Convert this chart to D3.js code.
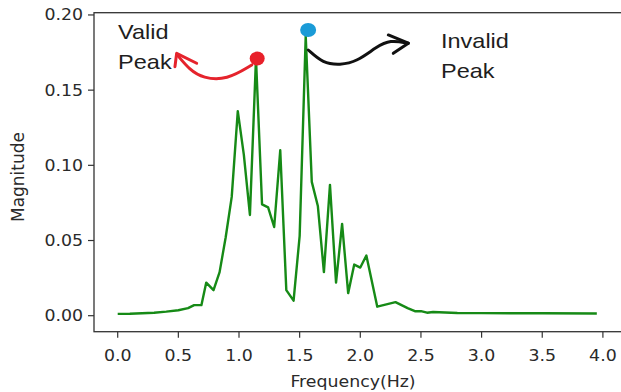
<!DOCTYPE html>
<html>
<head>
<meta charset="utf-8">
<script src="https://cdn.jsdelivr.net/npm/d3@7"></script>
<style>
	body { margin: 0; background: #fff; }
	svg { display: block; }
	text { font-family: "DejaVu Sans", sans-serif; fill: #2a2a2a; }
	.note { font-family: "Liberation Sans", Arial, sans-serif; fill: #1e1e1e; }
</style>
</head>
<body>
<svg id="chart" width="621" height="392"></svg>
<script>
// spectrum
var freqs = [0.00, 0.10, 0.20, 0.30, 0.40, 0.50, 0.58, 0.63, 0.69, 0.73, 0.79, 0.84, 0.89, 0.94, 0.99,
	1.04, 1.09, 1.14, 1.19, 1.24, 1.29, 1.34, 1.39, 1.45, 1.50, 1.55, 1.60, 1.65, 1.70, 1.75, 1.80,
	1.85, 1.90, 1.95, 2.00, 2.05, 2.14, 2.29, 2.39, 2.45, 2.50, 2.55, 2.60, 2.80, 3.00, 3.50, 3.95];
var magnitudes = [0.0012, 0.0013, 0.0016, 0.0020, 0.0027, 0.0036, 0.005, 0.007, 0.007, 0.022, 0.017, 0.029, 0.052, 0.079, 0.136,
	0.107, 0.067, 0.171, 0.074, 0.072, 0.059, 0.110, 0.017, 0.010, 0.053, 0.186, 0.089, 0.073, 0.029, 0.087, 0.022,
	0.061, 0.015, 0.034, 0.032, 0.040, 0.006, 0.009, 0.005, 0.003, 0.003, 0.002, 0.0025, 0.0018, 0.0017, 0.0016, 0.0015];

var xTicks = [0, 0.5, 1.0, 1.5, 2.0, 2.5, 3.0, 3.5, 4.0];
var yTicks = [0, 0.05, 0.10, 0.15, 0.20];

var validPeak = [1.15, 0.171];
var invalidPeak = [1.57, 0.190];

// hand drawn arrows, in data units
var validArrow = [[1.105, 0.1667], [0.899, 0.1567], [0.703, 0.158], [0.596, 0.1633], [0.49, 0.1735]];
var validArrowHead = [[0.651, 0.1679], [0.486, 0.1745], [0.472, 0.1656]];
var invalidArrow = [[1.571, 0.1767], [1.692, 0.1679], [1.833, 0.1667], [1.970, 0.1689], [2.135, 0.1789], [2.245, 0.1834], [2.396, 0.1812]];
var invalidArrowHead = [[2.231, 0.1867], [2.396, 0.1812], [2.272, 0.1745]];

var noteLines = [["Valid", "Peak"], ["Invalid", "Peak"]];
var noteAnchors = [[0.003, 0.1840], [2.665, 0.1780]];

var svg = d3.select("#chart");
var frame = { left: 94, top: 12.7, right: 622, bottom: 331.7 };
var stretch = "scale(1.12,1)";

var x = d3.scaleLinear()
	.domain([-0.1954, 4.1575])
	.range([frame.left, frame.right]);

var y = d3.scaleLinear()
	.domain([-0.01064, 0.2015])
	.range([frame.bottom, frame.top]);

svg.append("rect")
	.attr("width", 621)
	.attr("height", 392)
	.attr("fill", "#fff");

// ticks
svg.append("g").selectAll("line")
	.data(xTicks)
	.enter().append("line")
	.attr("x1", function(d) { return x(d); })
	.attr("x2", function(d) { return x(d); })
	.attr("y1", frame.bottom)
	.attr("y2", frame.bottom + 6)
	.attr("stroke", "#333")
	.attr("stroke-width", 1.2);

svg.append("g").selectAll("text")
	.data(xTicks)
	.enter().append("text")
	.attr("transform", function(d) { return "translate(" + x(d) + "," + (frame.bottom + 29.5) + ") " + stretch; })
	.attr("text-anchor", "middle")
	.style("font-size", "15.5px")
	.text(function(d) { return d.toFixed(1); });

svg.append("g").selectAll("line")
	.data(yTicks)
	.enter().append("line")
	.attr("x1", frame.left - 6)
	.attr("x2", frame.left)
	.attr("y1", function(d) { return y(d); })
	.attr("y2", function(d) { return y(d); })
	.attr("stroke", "#333")
	.attr("stroke-width", 1.2);

svg.append("g").selectAll("text")
	.data(yTicks)
	.enter().append("text")
	.attr("transform", function(d) { return "translate(" + (frame.left - 11) + "," + (y(d) + 5.5) + ") " + stretch; })
	.attr("text-anchor", "end")
	.style("font-size", "15.5px")
	.text(function(d) { return d.toFixed(2); });

svg.append("text")
	.attr("transform", "translate(" + ((frame.left + 612) / 2) + ",387) " + stretch)
	.attr("text-anchor", "middle")
	.style("font-size", "15.5px")
	.text("Frequency(Hz)");

svg.append("text")
	.attr("transform", "translate(24,177) rotate(-90)")
	.attr("text-anchor", "middle")
	.style("font-size", "17px")
	.text("Magnitude");

// spectrum
var line = d3.line()
	.x(function(d, i) { return x(freqs[i]); })
	.y(function(d) { return y(d); });

svg.append("path")
	.datum(magnitudes)
	.attr("d", line)
	.attr("fill", "none")
	.attr("stroke", "#168a16")
	.attr("stroke-width", 2.4)
	.attr("stroke-linejoin", "round");

svg.append("rect")
	.attr("x", frame.left)
	.attr("y", frame.top)
	.attr("width", frame.right - frame.left)
	.attr("height", frame.bottom - frame.top)
	.attr("fill", "none")
	.attr("stroke", "#333")
	.attr("stroke-width", 1.3);

// annotations
var curve = d3.line()
	.x(function(d) { return x(d[0]); })
	.y(function(d) { return y(d[1]); })
	.curve(d3.curveBasis);

var straight = d3.line()
	.x(function(d) { return x(d[0]); })
	.y(function(d) { return y(d[1]); });

[[validArrow, validArrowHead, "#e5232c"], [invalidArrow, invalidArrowHead, "#111"]].forEach(function(a) {
	svg.append("path")
		.attr("d", curve(a[0]))
		.attr("fill", "none")
		.attr("stroke", a[2])
		.attr("stroke-width", 3)
		.attr("stroke-linecap", "round");
	svg.append("path")
		.attr("d", straight(a[1]))
		.attr("fill", "none")
		.attr("stroke", a[2])
		.attr("stroke-width", 3)
		.attr("stroke-linecap", "round")
		.attr("stroke-linejoin", "round");
});

svg.append("ellipse")
	.attr("cx", x(validPeak[0]))
	.attr("cy", y(validPeak[1]))
	.attr("rx", 7.5)
	.attr("ry", 7)
	.attr("fill", "#e8202a");

svg.append("ellipse")
	.attr("cx", x(invalidPeak[0]))
	.attr("cy", y(invalidPeak[1]))
	.attr("rx", 8)
	.attr("ry", 7)
	.attr("fill", "#1a9bd7");

noteLines.forEach(function(lines, k) {
	svg.append("g").selectAll("text")
		.data(lines)
		.enter().append("text")
		.attr("class", "note")
		.attr("transform", function(d, i) {
			return "translate(" + x(noteAnchors[k][0]) + "," + (y(noteAnchors[k][1]) + i * 29.5) + ") " + stretch;
		})
		.style("font-size", "21px")
		.text(function(d) { return d; });
});
</script>
</body>
</html>
